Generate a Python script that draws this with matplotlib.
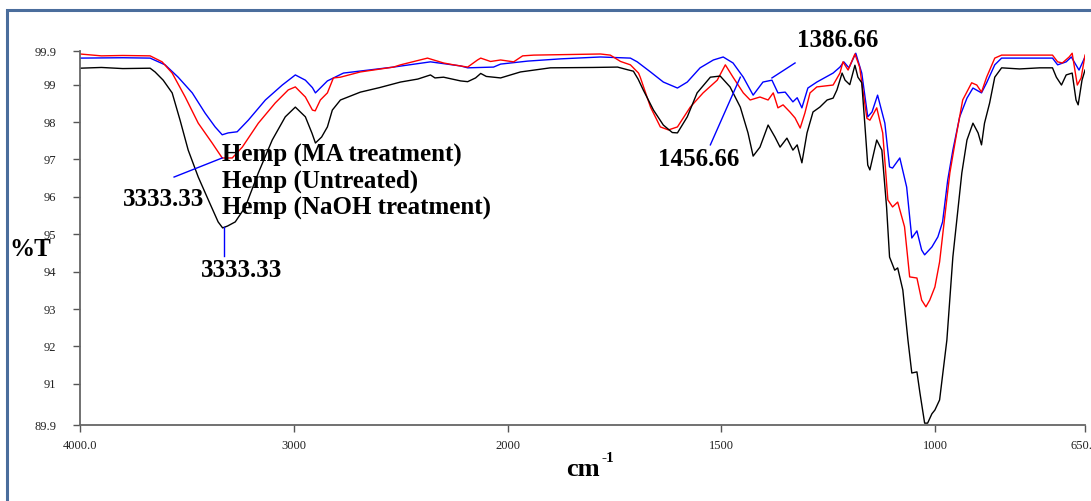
import matplotlib
matplotlib.use('Agg')
import matplotlib.pyplot as plt
from matplotlib.patches import Rectangle
import numpy as np

# wavenumber (cm-1) and %T
wn_naoh = [4000, 3900, 3800, 3672, 3649, 3611, 3569, 3532, 3494, 3447, 3400, 3354, 3333, 3310,
           3274, 3227, 3166, 3101, 3040, 2993, 2946, 2915, 2899, 2870, 2843, 2820, 2782, 2689,
           2600, 2501, 2420, 2361, 2340, 2300, 2220, 2187, 2150, 2126, 2100, 2033, 1970, 1900,
           1800, 1743, 1720, 1706, 1695, 1683, 1659, 1636, 1615, 1603, 1580, 1557, 1526, 1503,
           1480, 1456, 1438, 1426, 1410, 1391, 1375, 1363, 1347, 1333, 1323, 1312, 1300, 1286,
           1270, 1253, 1239, 1230, 1218, 1211, 1200, 1188, 1181, 1172, 1165, 1158, 1153, 1137,
           1125, 1114, 1107, 1095, 1088, 1076, 1064, 1055, 1043, 1036, 1025, 1018, 1008, 1001,
           990, 973, 959, 938, 926, 912, 900, 892, 885, 873, 861, 845, 803, 756, 726, 717, 705,
           694, 680, 671, 666, 657, 650]
t_naoh = [99.44, 99.46, 99.43, 99.44, 99.34, 99.12, 98.78, 98.05, 97.25, 96.53, 95.92, 95.33, 95.17, 95.22,
          95.33, 95.73, 96.64, 97.52, 98.14, 98.40, 98.14, 97.70, 97.44, 97.60, 97.87, 98.32, 98.59, 98.80,
          98.92, 99.07, 99.15, 99.26, 99.18, 99.20, 99.10, 99.08, 99.18, 99.30, 99.22, 99.18, 99.34, 99.45,
          99.46, 99.47, 99.40, 99.36, 99.15, 98.86, 98.32, 97.92, 97.72, 97.71, 98.14, 98.78, 99.20, 99.23,
          98.94, 98.40, 97.71, 97.09, 97.33, 97.92, 97.60, 97.33, 97.57, 97.25, 97.39, 96.91, 97.71, 98.27,
          98.40, 98.59, 98.64, 98.86, 99.31, 99.12, 99.00, 99.52, 99.20, 99.05, 97.97, 96.85, 96.72, 97.52,
          97.25, 95.73, 94.39, 94.04, 94.10, 93.51, 92.17, 91.29, 91.32, 90.76, 89.95, 89.95, 90.20, 90.30,
          90.57, 92.17, 94.39, 96.64, 97.52, 97.97, 97.71, 97.39, 97.97, 98.51, 99.20, 99.45, 99.42, 99.45, 99.45, 99.20, 98.99,
          99.26, 99.31, 98.59, 98.46, 99.12, 99.39]

wn_untr = [4000, 3900, 3800, 3672, 3616, 3569, 3508, 3447, 3382, 3335, 3288, 3241, 3166, 3087,
           3026, 2993, 2946, 2913, 2900, 2876, 2843, 2815, 2782, 2689, 2534, 2501, 2375, 2300,
           2253, 2187, 2141, 2126, 2080, 2033, 1986, 1965, 1939, 1783, 1760, 1736, 1713, 1694,
           1690, 1666, 1643, 1624, 1603, 1573, 1543, 1510, 1491, 1473, 1449, 1433, 1410, 1391,
           1379, 1368, 1356, 1340, 1328, 1316, 1305, 1293, 1277, 1239, 1223, 1216, 1204, 1188,
           1177, 1160, 1153, 1137, 1123, 1111, 1100, 1088, 1072, 1060, 1043, 1032, 1022, 1013,
           1001, 990, 978, 966, 950, 936, 915, 903, 892, 880, 861, 845, 726, 714, 703, 687, 680,
           668, 659, 650]
t_untr = [99.82, 99.77, 99.78, 99.77, 99.61, 99.31, 98.67, 97.97, 97.44, 97.04, 97.04, 97.33, 97.97, 98.51,
          98.86, 98.94, 98.67, 98.32, 98.30, 98.59, 98.78, 99.18, 99.20, 99.34, 99.47, 99.53, 99.71, 99.58,
          99.53, 99.47, 99.66, 99.71, 99.62, 99.66, 99.61, 99.77, 99.79, 99.82, 99.79, 99.62, 99.53, 99.31,
          99.20, 98.40, 97.87, 97.79, 97.87, 98.40, 98.78, 99.12, 99.53, 99.20, 98.78, 98.59, 98.67, 98.59,
          98.78, 98.38, 98.46, 98.27, 98.11, 97.84, 98.24, 98.78, 98.94, 98.99, 99.31, 99.61, 99.39, 99.82,
          99.47, 98.10, 98.05, 98.38, 97.71, 95.92, 95.73, 95.86, 95.20, 93.86, 93.83, 93.24, 93.06, 93.24,
          93.59, 94.26, 95.46, 96.64, 97.71, 98.59, 99.05, 98.99, 98.80, 99.20, 99.71, 99.79, 99.79, 99.61, 99.58, 99.74, 99.84,
          98.99, 99.18, 99.79]

wn_ma = [4000, 3800, 3672, 3602, 3541, 3475, 3415, 3368, 3335, 3307, 3265, 3213, 3133, 3054,
         2993, 2946, 2913, 2899, 2843, 2768, 2534, 2361, 2220, 2187, 2066, 2033, 1953, 1876,
         1783, 1713, 1697, 1666, 1636, 1603, 1580, 1550, 1519, 1496, 1473, 1449, 1426, 1403,
         1382, 1368, 1351, 1333, 1323, 1312, 1298, 1277, 1239, 1223, 1214, 1202, 1186, 1172,
         1158, 1148, 1135, 1118, 1107, 1100, 1083, 1067, 1055, 1043, 1032, 1025, 1008, 994,
         983, 971, 959, 943, 926, 912, 892, 880, 861, 845, 726, 714, 694, 682, 664, 650]
t_ma = [99.71, 99.72, 99.71, 99.53, 99.20, 98.78, 98.24, 97.87, 97.66, 97.71, 97.74, 98.05, 98.59, 98.99,
        99.26, 99.12, 98.92, 98.78, 99.10, 99.31, 99.47, 99.61, 99.50, 99.45, 99.47, 99.55, 99.63, 99.69,
        99.74, 99.71, 99.61, 99.34, 99.07, 98.91, 99.07, 99.45, 99.66, 99.74, 99.58, 99.20, 98.72, 99.07,
        99.12, 98.78, 98.80, 98.54, 98.65, 98.38, 98.91, 99.07, 99.31, 99.47, 99.61, 99.45, 99.84, 99.31,
        98.14, 98.27, 98.72, 97.97, 96.80, 96.77, 97.04, 96.26, 94.90, 95.09, 94.58, 94.45, 94.66, 94.93,
        95.33, 96.45, 97.25, 98.14, 98.64, 98.91, 98.78, 99.05, 99.53, 99.71, 99.71, 99.53, 99.61, 99.74, 99.39, 99.74]

legend_labels = ['Hemp (MA treatment)', 'Hemp (Untreated)', 'Hemp (NaOH treatment)']
x_ticks = [4000, 3000, 2000, 1500, 1000, 650]
x_ticklabels = ['4000.0', '3000', '2000', '1500', '1000', '650.0']
y_ticks = [89.9, 91, 92, 93, 94, 95, 96, 97, 98, 99, 99.9]
y_ticklabels = ['89.9', '91', '92', '93', '94', '95', '96', '97', '98', '99', '99.9']

plt.rcParams['font.family'] = ['Liberation Serif', 'DejaVu Serif']


# 4000-2000 region is drawn at half scale (as on the instrument printout)
def fwd(x):
    x = np.asarray(x, dtype=float)
    return np.where(x > 2000, 2000 + (x - 2000) / 2.0, x)


def inv(u):
    u = np.asarray(u, dtype=float)
    return np.where(u > 2000, 2000 + (u - 2000) * 2.0, u)


fig = plt.figure(figsize=(10.91, 5.01), dpi=100)
ax = fig.add_axes([80 / 1091, 1 - 425 / 501, 1005 / 1091, 374 / 501])

ax.plot(wn_ma, t_ma, color='#0000ff', lw=1.0)
ax.plot(wn_untr, t_untr, color='#ff0000', lw=1.0)
ax.plot(wn_naoh, t_naoh, color='black', lw=1.0)

ax.set_xscale('function', functions=(fwd, inv))
ax.set_xlim(4000, 650)
ax.set_ylim(89.9, 99.9)
ax.set_xticks(x_ticks)
ax.set_xticklabels(x_ticklabels)
ax.set_yticks(y_ticks)
ax.set_yticklabels(y_ticklabels)
ax.minorticks_off()
ax.tick_params(labelsize=9, color='#555555', length=5, width=1, labelcolor='#222222')
ax.tick_params(axis='x', pad=6)
ax.tick_params(axis='y', pad=12)
for s in ['top', 'right']:
    ax.spines[s].set_visible(False)
for s in ['left', 'bottom']:
    ax.spines[s].set_color('#666666')
    ax.spines[s].set_linewidth(1.3)

ax.text(-0.07, 0.47, '%T', transform=ax.transAxes, fontsize=18, fontweight='bold', va='center', ha='left')
# x axis label: "cm" with a small superscript "-1"
fig.text(583 / 1091, 1 - 470 / 501, 'cm', fontsize=19, fontweight='bold', ha='center', va='center')
fig.text(601 / 1091, 1 - 458 / 501, '-1', fontsize=11, fontweight='bold', ha='left', va='center')

# legend text block
for lab, yy in zip(legend_labels, [97.12, 96.42, 95.70]):
    ax.text(3335, yy, lab, fontsize=18, fontweight='bold', va='center', ha='left')

# peak annotations
bold = dict(fontsize=18, fontweight='bold', ha='center', va='center', clip_on=False)
ax.plot([3560, 3335], [96.53, 97.04], color='#0000ff', lw=1)
ax.text(3611, 95.92, '3333.33', **bold)
ax.plot([3326, 3326], [95.19, 94.42], color='#0000ff', lw=1)
ax.text(3246, 94.04, '3333.33', **bold)
ax.plot([1526, 1456], [97.39, 99.2], color='#0000ff', lw=1)
ax.text(1554, 96.99, '1456.66', **bold)
ax.plot([1382, 1328], [99.18, 99.58], color='#0000ff', lw=1)
ax.text(1228, 100.19, '1386.66', **bold)

# outer frame
fig.patches.append(Rectangle((7 / 1091, -0.1), 1.2, 1.1 - 10 / 501, transform=fig.transFigure,
                             fill=False, edgecolor='#4a6d9c', lw=2.2))

fig.savefig('out.png', dpi=100)
